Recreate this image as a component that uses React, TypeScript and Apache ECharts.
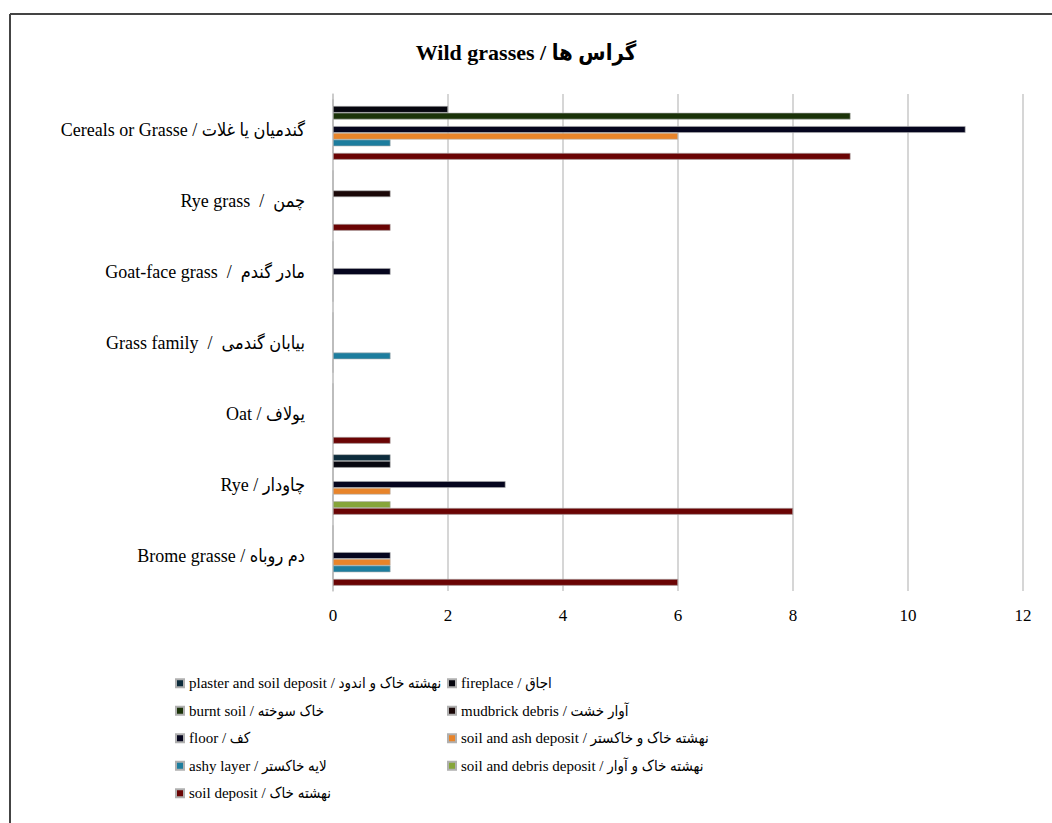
import React, { useEffect, useRef } from "react";
import * as echarts from "echarts";

const categories = [
  "Cereals or Grasse / گندمیان یا غلات",
  "Rye grass  /  چمن",
  "Goat-face grass  /  مادر گندم",
  "Grass family  /  بیابان گندمی",
  "Oat / یولاف",
  "Rye / چاودار",
  "Brome grasse / دم روباه",
];

const seriesNames = [
  "plaster and soil deposit / نهشته خاک و اندود",
  "fireplace / اجاق",
  "burnt soil / خاک سوخته",
  "mudbrick debris / آوار خشت",
  "floor / کف",
  "soil and ash deposit / نهشته خاک و خاکستر",
  "ashy layer / لایه خاکستر",
  "soil and debris deposit / نهشته خاک و آوار",
  "soil deposit / نهشته خاک",
];

const plasterSoil = [0, 0, 0, 0, 0, 1, 0];
const fireplace = [2, 0, 0, 0, 0, 1, 0];
const burntSoil = [9, 0, 0, 0, 0, 0, 0];
const mudbrickDebris = [0, 1, 0, 0, 0, 0, 0];
const floor = [11, 0, 1, 0, 0, 3, 1];
const soilAsh = [6, 0, 0, 0, 0, 1, 1];
const ashyLayer = [1, 0, 0, 1, 0, 0, 1];
const soilDebris = [0, 0, 0, 0, 0, 1, 0];
const soilDeposit = [9, 1, 0, 0, 1, 8, 6];

const seriesData = [
  plasterSoil,
  fireplace,
  burntSoil,
  mudbrickDebris,
  floor,
  soilAsh,
  ashyLayer,
  soilDebris,
  soilDeposit,
];

const colors = [
  "#0d2c3c",
  "#06060e",
  "#1b3309",
  "#1a0707",
  "#05051e",
  "#e8842a",
  "#1d7d9e",
  "#86a53a",
  "#6a0404",
];

const FONT = "'Liberation Serif', 'DejaVu Sans Condensed', 'DejaVu Sans', serif";

export default function App() {
  const ref = useRef<HTMLDivElement>(null);
  useEffect(() => {
    if (!ref.current) return;
    const chart = echarts.init(ref.current, undefined, { renderer: "svg" });
    const col1 = [0, 2, 4, 6, 8].map((i) => seriesNames[i]);
    const col2 = [1, 3, 5, 7].map((i) => seriesNames[i]);
    const legendCommon = {
      orient: "vertical",
      top: 670,
      itemWidth: 8,
      itemHeight: 8,
      itemGap: 11,
      icon: "rect",
      textStyle: { fontFamily: FONT, fontSize: 15, color: "#000", lineHeight: 16.5 },
      selectedMode: false,
    };
    chart.setOption({
      animation: false,
      backgroundColor: "#fff",
      title: {
        text: "Wild grasses / گراس ها",
        left: "center",
        top: 36,
        textStyle: { fontFamily: FONT, fontSize: 22, fontWeight: "bold", color: "#000" },
      },
      grid: { left: 333, right: 29, top: 94, bottom: 232, containLabel: false },
      xAxis: {
        type: "value",
        min: 0,
        max: 12,
        interval: 2,
        axisLine: { show: false },
        axisTick: { show: false },
        splitLine: { show: true, lineStyle: { color: "#c8c8c8", width: 1.5 } },
        axisLabel: { fontFamily: FONT, fontSize: 17, color: "#000", margin: 16 },
      },
      yAxis: {
        type: "category",
        data: categories,
        inverse: true,
        axisLine: { show: true, lineStyle: { color: "#c8c8c8", width: 1.5 } },
        axisTick: { show: false },
        axisLabel: { fontFamily: FONT, fontSize: 18, color: "#000", margin: 28 },
      },
      legend: [
        { ...legendCommon, left: 170, data: col1 },
        { ...legendCommon, left: 442, data: col2 },
      ],
      series: seriesData.map((d, i) => ({
        name: seriesNames[i],
        type: "bar",
        data: d,
        barGap: "0%",
        barCategoryGap: "15%",
        itemStyle: { color: colors[i], borderColor: "#b0b0b0", borderWidth: 0.6 },
      })),
      graphic: [
        { type: "line", shape: { x1: 10, y1: 14, x2: 1052, y2: 14 }, style: { stroke: "#444", lineWidth: 2 } },
        { type: "line", shape: { x1: 10, y1: 14, x2: 10, y2: 823 }, style: { stroke: "#444", lineWidth: 2 } },
      ],
    });
    return () => chart.dispose();
  }, []);
  return (
    <div
      ref={ref}
      style={{ position: "fixed", left: 0, top: 0, width: 1052, height: 823 }}
    />
  );
}
